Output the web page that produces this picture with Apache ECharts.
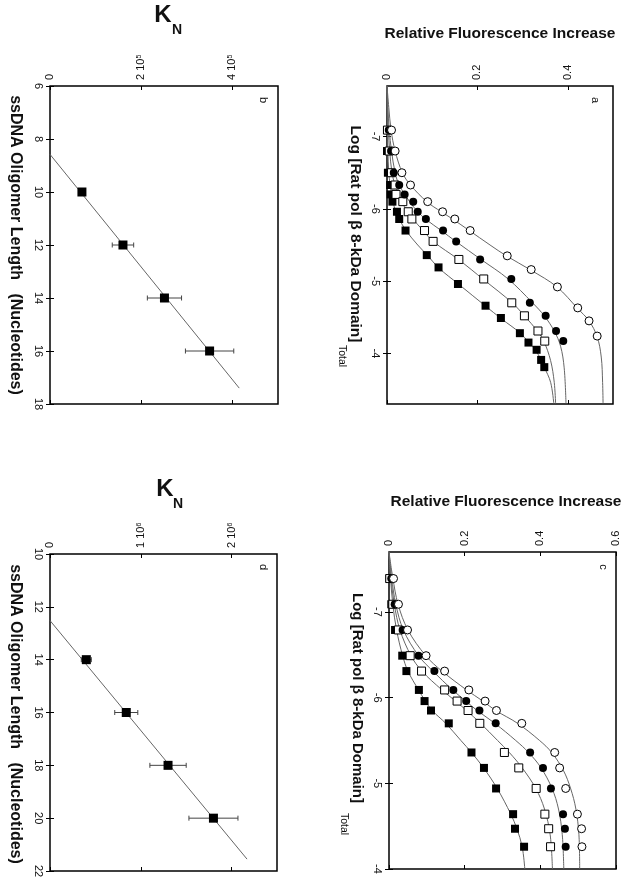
<!DOCTYPE html>
<html>
<head>
<meta charset="utf-8">
<script src="https://cdn.jsdelivr.net/npm/echarts@6/dist/echarts.min.js"></script>
<style>html,body{margin:0;padding:0;background:#fff}#c{width:638px;height:889px}</style>
</head>
<body>
<div id="c"></div>
<script>
// ---------- DATA (pairs: [log concentration, relative fluorescence]) ----------
// Panel a
const aFilledSquares = [[-7.09,0.0],[-6.80,0.0],[-6.50,0.002],[-6.33,0.007],[-6.20,0.008],[-6.10,0.012],[-5.96,0.022],[-5.86,0.027],[-5.70,0.041],[-5.36,0.088],[-5.19,0.114],[-4.96,0.157],[-4.66,0.218],[-4.49,0.252],[-4.28,0.294],[-4.15,0.313],[-4.05,0.331],[-3.91,0.341],[-3.81,0.348]];
const aOpenSquares = [[-7.09,0.001],[-6.80,0.005],[-6.50,0.010],[-6.33,0.018],[-6.20,0.020],[-6.10,0.035],[-5.96,0.047],[-5.86,0.055],[-5.70,0.083],[-5.55,0.102],[-5.30,0.159],[-5.03,0.214],[-4.70,0.276],[-4.52,0.304],[-4.31,0.334],[-4.17,0.349]];
const aFilledCircles = [[-7.09,0.004],[-6.80,0.009],[-6.50,0.015],[-6.33,0.027],[-6.20,0.039],[-6.10,0.058],[-5.96,0.068],[-5.86,0.086],[-5.70,0.124],[-5.55,0.153],[-5.30,0.206],[-5.03,0.275],[-4.70,0.316],[-4.52,0.351],[-4.31,0.374],[-4.17,0.390]];
const aOpenCircles = [[-7.09,0.010],[-6.80,0.018],[-6.50,0.033],[-6.33,0.052],[-6.10,0.090],[-5.96,0.123],[-5.86,0.150],[-5.70,0.184],[-5.35,0.266],[-5.16,0.319],[-4.92,0.377],[-4.63,0.422],[-4.45,0.447],[-4.24,0.465]];
// fitted curves of panel a
const aFitFilledSquares = [[-7.7,0],[-7.09,0.001],[-6.8,0.002],[-6.5,0.004],[-6.33,0.007],[-6.1,0.013],[-5.96,0.020],[-5.86,0.027],[-5.7,0.042],[-5.5,0.068],[-5.36,0.089],[-5.18,0.115],[-4.96,0.158],[-4.65,0.219],[-4.48,0.253],[-4.28,0.295],[-4.15,0.314],[-4.05,0.328],[-3.91,0.341],[-3.81,0.348],[-3.6,0.362],[-3.31,0.369]];
const aFitOpenSquares = [[-7.7,0],[-7.4,0.001],[-7.09,0.003],[-6.8,0.006],[-6.5,0.011],[-6.33,0.018],[-6.1,0.033],[-5.96,0.045],[-5.86,0.057],[-5.7,0.080],[-5.55,0.102],[-5.3,0.158],[-5.02,0.214],[-4.7,0.277],[-4.52,0.304],[-4.3,0.334],[-4.17,0.347],[-3.9,0.362],[-3.6,0.370],[-3.31,0.373]];
const aFitFilledCircles = [[-7.7,0],[-7.4,0.002],[-7.09,0.005],[-6.8,0.010],[-6.5,0.018],[-6.33,0.027],[-6.1,0.050],[-5.96,0.068],[-5.86,0.085],[-5.7,0.120],[-5.55,0.152],[-5.3,0.208],[-5.03,0.268],[-4.7,0.322],[-4.52,0.348],[-4.31,0.370],[-4.1,0.384],[-3.8,0.392],[-3.31,0.396]];
const aFitOpenCircles = [[-7.7,0],[-7.4,0.004],[-7.09,0.009],[-6.8,0.018],[-6.5,0.034],[-6.33,0.052],[-6.1,0.088],[-5.96,0.120],[-5.86,0.145],[-5.7,0.182],[-5.5,0.228],[-5.35,0.264],[-5.15,0.319],[-4.92,0.376],[-4.62,0.422],[-4.45,0.447],[-4.23,0.465],[-3.95,0.474],[-3.6,0.477],[-3.31,0.478]];

// Panel c
const cFilledSquares = [[-7.39,0.001],[-7.09,0.006],[-6.79,0.016],[-6.49,0.035],[-6.31,0.046],[-6.09,0.079],[-5.96,0.094],[-5.85,0.111],[-5.70,0.158],[-5.36,0.218],[-5.18,0.251],[-4.94,0.283],[-4.64,0.328],[-4.47,0.333],[-4.26,0.357]];
const cOpenSquares = [[-7.39,0.002],[-7.09,0.010],[-6.79,0.025],[-6.49,0.056],[-6.31,0.086],[-6.09,0.147],[-5.96,0.180],[-5.85,0.209],[-5.70,0.240],[-5.36,0.305],[-5.18,0.343],[-4.94,0.389],[-4.64,0.412],[-4.47,0.422],[-4.26,0.427]];
const cFilledCircles = [[-7.39,0.006],[-7.09,0.015],[-6.79,0.036],[-6.49,0.078],[-6.31,0.120],[-6.09,0.170],[-5.96,0.204],[-5.85,0.239],[-5.70,0.282],[-5.36,0.373],[-5.18,0.407],[-4.94,0.428],[-4.64,0.460],[-4.47,0.465],[-4.26,0.467]];
const cOpenCircles = [[-7.39,0.012],[-7.09,0.025],[-6.79,0.049],[-6.49,0.098],[-6.31,0.147],[-6.09,0.211],[-5.96,0.254],[-5.85,0.284],[-5.70,0.351],[-5.36,0.438],[-5.18,0.451],[-4.94,0.467],[-4.64,0.498],[-4.47,0.509],[-4.26,0.510]];
const cFitFilledSquares = [[-7.7,0],[-7.4,0.004],[-7.09,0.010],[-6.79,0.020],[-6.49,0.036],[-6.31,0.050],[-6.09,0.078],[-5.96,0.096],[-5.85,0.114],[-5.7,0.150],[-5.5,0.190],[-5.36,0.218],[-5.18,0.250],[-4.94,0.286],[-4.64,0.322],[-4.47,0.338],[-4.26,0.352],[-4.0,0.359]];
const cFitOpenSquares = [[-7.7,0],[-7.4,0.005],[-7.09,0.014],[-6.79,0.029],[-6.49,0.058],[-6.31,0.087],[-6.09,0.140],[-5.96,0.176],[-5.85,0.205],[-5.7,0.242],[-5.5,0.287],[-5.36,0.318],[-5.18,0.352],[-4.94,0.388],[-4.7,0.411],[-4.4,0.426],[-4.0,0.432]];
const cFitFilledCircles = [[-7.7,0],[-7.4,0.007],[-7.09,0.018],[-6.79,0.038],[-6.49,0.078],[-6.31,0.116],[-6.09,0.168],[-5.96,0.203],[-5.85,0.233],[-5.7,0.280],[-5.5,0.335],[-5.36,0.369],[-5.18,0.402],[-4.94,0.431],[-4.7,0.448],[-4.4,0.458],[-4.0,0.462]];
const cFitOpenCircles = [[-7.7,0],[-7.4,0.010],[-7.09,0.024],[-6.79,0.050],[-6.49,0.097],[-6.31,0.140],[-6.09,0.205],[-5.96,0.248],[-5.85,0.282],[-5.7,0.340],[-5.5,0.398],[-5.36,0.430],[-5.15,0.461],[-4.94,0.480],[-4.7,0.494],[-4.4,0.502],[-4.0,0.504]];

// Panel b
const bLength = [10, 12, 14, 16];
const bKN = [0.70e5, 1.60e5, 2.51e5, 3.50e5];
const bErr = [0.02e5, 0.235e5, 0.375e5, 0.53e5];
const bFit = [[8.58, 0], [17.4, 4.15e5]];
// Panel d
const dLength = [14, 16, 18, 20];
const dKN = [0.40e6, 0.84e6, 1.30e6, 1.80e6];
const dErr = [0.055e6, 0.127e6, 0.20e6, 0.27e6];
const dFit = [[12.52, 0], [21.55, 2.17e6]];

// Tick labels
const aFluorTicks = [0, 0.2, 0.4];
const cFluorTicks = [0, 0.2, 0.4, 0.6];
const logTicks = [-7, -6, -5, -4];
const bLenTicks = [6, 8, 10, 12, 14, 16, 18];
const dLenTicks = [10, 12, 14, 16, 18, 20, 22];
const bKTicks = [0, 2e5, 4e5];
const dKTicks = [0, 1e6, 2e6];

// ---------- CHART ----------
const FONT = 'Liberation Sans, Arial, sans-serif';
const TXT = '#111';
const LINE = '#666';

const grids = [
  {left: 387, top: 86, width: 226, height: 318},   // a
  {left: 50, top: 86, width: 228, height: 318},    // b
  {left: 389, top: 552, width: 227, height: 317},  // c
  {left: 50, top: 554, width: 227, height: 317}    // d
].map(g => Object.assign({show: true, borderColor: '#000', borderWidth: 1.5, backgroundColor: 'transparent'}, g));

function sciFmt(exp) {
  return v => v === 0 ? '0' : (v / Math.pow(10, exp)) + ' 10{sup|' + exp + '}';
}
const labelRich = {sup: {fontSize: 7, fontFamily: FONT, color: TXT, verticalAlign: 'top', lineHeight: 8, padding: [0,0,6,0]}};

function axisPair(kind, gi, min, max, ticks, fmt, pos1, pos2) {
  const common = {gridIndex: gi, type: 'value', min: min, max: max, axisLine: {show: false}, splitLine: {show: false}};
  const main = Object.assign({}, common, {
    position: pos1,
    axisTick: {show: true, inside: true, length: 4, customValues: ticks, lineStyle: {color: '#000', width: 1}},
    axisLabel: {show: true, rotate: -90, margin: 6, customValues: ticks, formatter: fmt, color: TXT, fontSize: 11, fontFamily: FONT, rich: labelRich}
  });
  const mirror = Object.assign({}, common, {
    position: pos2,
    axisTick: {show: true, inside: true, length: 4, customValues: ticks, lineStyle: {color: '#000', width: 1}},
    axisLabel: {show: false}
  });
  if (kind === 'y') { main.inverse = true; mirror.inverse = true; }
  return [main, mirror];
}

const xAxis = [
  ...axisPair('x', 0, 0, 0.5, aFluorTicks, v => String(v), 'top', 'bottom'),
  ...axisPair('x', 1, 0, 5e5, bKTicks, sciFmt(5), 'top', 'bottom'),
  ...axisPair('x', 2, 0, 0.6, cFluorTicks, v => String(v), 'top', 'bottom'),
  ...axisPair('x', 3, 0, 2.5e6, dKTicks, sciFmt(6), 'top', 'bottom')
];
const yAxis = [
  ...axisPair('y', 0, -7.7, -3.3, logTicks, v => String(v), 'left', 'right'),
  ...axisPair('y', 1, 6, 18, bLenTicks, v => String(v), 'left', 'right'),
  ...axisPair('y', 2, -7.7, -4, logTicks, v => String(v), 'left', 'right'),
  ...axisPair('y', 3, 10, 22, dLenTicks, v => String(v), 'left', 'right')
];

function fitSeries(data, ax) {
  return {type: 'line', xAxisIndex: ax, yAxisIndex: ax, data: data, encode: {x: 1, y: 0},
    showSymbol: false, symbol: 'none', smooth: 0.35, lineStyle: {color: LINE, width: 1}, silent: true, z: 2, animation: false};
}
function pointSeries(data, ax, symbol, filled, size) {
  return {type: 'scatter', xAxisIndex: ax, yAxisIndex: ax, data: data, encode: {x: 1, y: 0},
    symbol: symbol, symbolSize: size,
    itemStyle: {color: filled ? '#000' : '#fff', borderColor: '#000', borderWidth: filled ? 0 : 1, opacity: 1},
    z: 5, animation: false};
}
function errSeries(len, kn, err, ax) {
  return {type: 'custom', xAxisIndex: ax, yAxisIndex: ax,
    data: len.map((l, i) => [kn[i], l, err[i]]), encode: {x: 0, y: 1}, z: 3, animation: false,
    renderItem: function (params, api) {
      const k = api.value(0), l = api.value(1), e = api.value(2);
      const p1 = api.coord([k - e, l]), p2 = api.coord([k + e, l]);
      const h = 2.5, st = {stroke: '#444', lineWidth: 1};
      return {type: 'group', children: [
        {type: 'line', shape: {x1: p1[0], y1: p1[1], x2: p2[0], y2: p2[1]}, style: st},
        {type: 'line', shape: {x1: p1[0], y1: p1[1] - h, x2: p1[0], y2: p1[1] + h}, style: st},
        {type: 'line', shape: {x1: p2[0], y1: p2[1] - h, x2: p2[0], y2: p2[1] + h}, style: st}
      ]};
    }};
}
function lineSeries(data, ax) {
  return {type: 'line', xAxisIndex: ax, yAxisIndex: ax, data: data, encode: {x: 1, y: 0},
    showSymbol: false, symbol: 'none', lineStyle: {color: LINE, width: 1}, z: 2, animation: false};
}

const series = [
  // a (axes index 0)
  fitSeries(aFitFilledSquares, 0), fitSeries(aFitOpenSquares, 0), fitSeries(aFitFilledCircles, 0), fitSeries(aFitOpenCircles, 0),
  pointSeries(aFilledSquares, 0, 'rect', true, 8), pointSeries(aOpenSquares, 0, 'rect', false, 8),
  pointSeries(aFilledCircles, 0, 'circle', true, 8), pointSeries(aOpenCircles, 0, 'circle', false, 8),
  // b (axes index 2)
  lineSeries(bFit, 2), errSeries(bLength, bKN, bErr, 2),
  pointSeries(bLength.map((l, i) => [l, bKN[i]]), 2, 'rect', true, 9),
  // c (axes index 4)
  fitSeries(cFitFilledSquares, 4), fitSeries(cFitOpenSquares, 4), fitSeries(cFitFilledCircles, 4), fitSeries(cFitOpenCircles, 4),
  pointSeries(cFilledSquares, 4, 'rect', true, 8), pointSeries(cOpenSquares, 4, 'rect', false, 8),
  pointSeries(cFilledCircles, 4, 'circle', true, 8), pointSeries(cOpenCircles, 4, 'circle', false, 8),
  // d (axes index 6)
  lineSeries(dFit, 6), errSeries(dLength, dKN, dErr, 6),
  pointSeries(dLength.map((l, i) => [l, dKN[i]]), 6, 'rect', true, 9)
];

function txt(text, x, y, size, weight, rot) {
  return {type: 'text', x: x, y: y, rotation: rot || 0, z: 10, silent: true,
    style: {text: text, fill: TXT, font: weight + ' ' + size + 'px ' + FONT, textAlign: 'center', textVerticalAlign: 'middle'}};
}
const R = -Math.PI / 2;
const graphic = [
  txt('Relative Fluorescence Increase', 500, 34, 15.5, 'bold'),
  txt('Relative Fluorescence Increase', 506, 502, 15.5, 'bold'),
  txt('Log [Rat pol β 8-kDa Domain]', 355, 234, 15.5, 'bold', R),
  txt('Total', 342, 356, 10.5, 'normal', R),
  txt('Log [Rat pol β 8-kDa Domain]', 357, 698, 15, 'bold', R),
  txt('Total', 344, 824, 10.5, 'normal', R),
  txt('K', 163, 15, 24, 'bold'),
  txt('N', 177, 30, 14, 'bold'),
  txt('K', 165, 489, 24, 'bold'),
  txt('N', 178, 504, 14, 'bold'),
  txt('ssDNA Oligomer Length   (Nucleotides)', 15, 245, 16, 'bold', R),
  txt('ssDNA Oligomer Length   (Nucleotides)', 15, 714, 16, 'bold', R),
  txt('a', 595, 100, 11, 'normal', R),
  txt('b', 263, 100, 11, 'normal', R),
  txt('c', 603, 567, 11, 'normal', R),
  txt('d', 263, 567, 11, 'normal', R)
];

const chart = echarts.init(document.getElementById('c'), null, {renderer: 'canvas', width: 638, height: 889});
chart.setOption({backgroundColor: '#fff', animation: false, grid: grids, xAxis: xAxis, yAxis: yAxis, series: series, graphic: graphic});
</script>
</body>
</html>
